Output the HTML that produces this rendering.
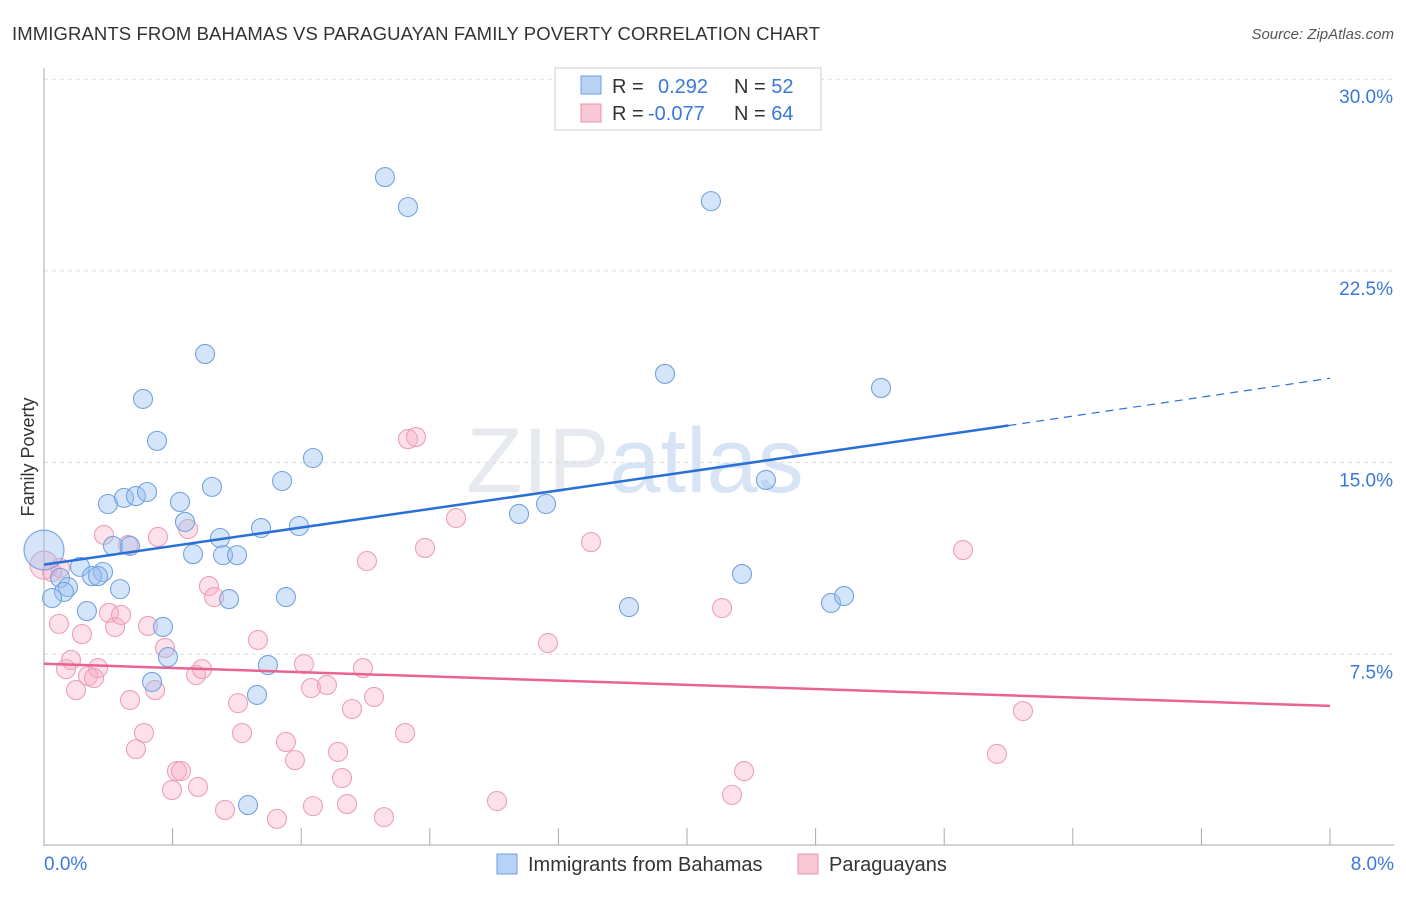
<!DOCTYPE html>
<html><head><meta charset="utf-8"><style>
body{margin:0;background:#fff;font-family:"Liberation Sans",sans-serif}
svg text{font-family:"Liberation Sans",sans-serif}
</style></head><body>
<svg width="1406" height="892" viewBox="0 0 1406 892">
<text x="12" y="40" font-size="18.5" fill="#333" textLength="808">IMMIGRANTS FROM BAHAMAS VS PARAGUAYAN FAMILY POVERTY CORRELATION CHART</text>
<text x="1394" y="39" font-size="15" fill="#555" font-style="italic" text-anchor="end">Source: ZipAtlas.com</text>
<text x="635" y="492" font-size="92" fill="#e6eaef" font-family="Liberation Serif" text-anchor="middle">ZIP<tspan fill="#d6e4f5" font-family="Liberation Sans">atlas</tspan></text>
<g id="grid"></g>
<line x1="44" y1="68" x2="44" y2="846" stroke="#aaa"/>
<line x1="44" y1="845" x2="1394" y2="845" stroke="#aaa"/>
<g id="ticks"></g>
<text x="34" y="457" font-size="18" fill="#333" text-anchor="middle" transform="rotate(-90 34 457)">Family Poverty</text>
<text x="44" y="870" font-size="19" fill="#3b78d8">0.0%</text>
<text x="1394" y="870" font-size="19" fill="#3b78d8" text-anchor="end">8.0%</text>
<g id="pts"></g>
<g id="lines"></g>
<g>
<rect x="555" y="68" width="266" height="62" fill="#fff" stroke="#ccc"/>
<rect x="581" y="76" width="20" height="18" fill="#b8d2f4" stroke="#6e9fe0"/>
<rect x="581" y="104" width="20" height="18" fill="#f9c8d6" stroke="#ec8fab"/>
<text x="612" y="93" font-size="20" fill="#333">R = <tspan fill="#3b78d8" x="658">0.292</tspan><tspan x="734" fill="#333">N = </tspan><tspan fill="#3b78d8">52</tspan></text>
<text x="612" y="120" font-size="20" fill="#333">R = <tspan fill="#3b78d8" x="648">-0.077</tspan><tspan x="734" fill="#333">N = </tspan><tspan fill="#3b78d8">64</tspan></text>
</g>
<g>
<rect x="497" y="854" width="20" height="20" fill="#b8d2f4" stroke="#6e9fe0"/>
<text x="528" y="871" font-size="20" fill="#333">Immigrants from Bahamas</text>
<rect x="798" y="854" width="20" height="20" fill="#f9c8d6" stroke="#ec8fab"/>
<text x="829" y="871" font-size="20" fill="#333">Paraguayans</text>
</g>
</svg>
<script>
const yTicks=[7.5,15.0,22.5,30.0];
const xTickVals=[0,0.8,1.6,2.4,3.2,4.0,4.8,5.6,6.4,7.2,8.0];
const bluePx=[[44,550],[108,504],[124,498],[136,496],[147,492],[180,502],[185,522],[205,354],[143,399],[157,441],[212,487],[113,546],[130,546],[193,554],[220,538],[223,555],[237,555],[261,528],[282,481],[299,526],[313,458],[80,567],[103,572],[92,576],[98,576],[60,578],[68,587],[64,592],[52,598],[120,589],[87,611],[163,627],[229,599],[286,597],[168,657],[268,665],[152,682],[257,695],[248,805],[385,177],[408,207],[519,514],[546,504],[629,607],[665,374],[711,201],[742,574],[766,480],[831,603],[844,596],[881,388]];
const pinkPx=[[44,565],[52,572],[60,568],[104,535],[128,545],[158,537],[188,529],[59,624],[82,634],[109,613],[115,627],[121,615],[148,626],[165,648],[209,586],[214,597],[258,640],[71,660],[66,669],[98,668],[88,676],[94,678],[76,690],[155,690],[196,675],[202,669],[304,664],[363,668],[130,700],[238,703],[311,688],[327,685],[374,697],[352,709],[144,733],[136,749],[242,733],[286,742],[295,760],[338,752],[405,733],[177,771],[181,771],[172,790],[198,787],[342,778],[225,810],[277,819],[313,806],[347,804],[384,817],[367,561],[408,439],[416,437],[425,548],[456,518],[548,643],[591,542],[722,608],[744,771],[732,795],[497,801],[963,550],[1023,711],[997,754]];
const blueX=bluePx.map(p=>+((p[0]-44)/1286*8).toFixed(3));
const blueY=bluePx.map(p=>+((846-p[1])/191.7*7.5).toFixed(2));
const pinkX=pinkPx.map(p=>+((p[0]-44)/1286*8).toFixed(3));
const pinkY=pinkPx.map(p=>+((846-p[1])/191.7*7.5).toFixed(2));
const blueTrend=[0.0,11.01,6.0,16.45,8.0,18.3];
const pinkTrend=[0.0,7.13,8.0,5.48];
const NS='http://www.w3.org/2000/svg';
const sx=v=>44+v/8*1286, sy=v=>846-v/7.5*191.7;
function mk(t,a,parent){const e=document.createElementNS(NS,t);for(const k in a)e.setAttribute(k,a[k]);document.getElementById(parent).appendChild(e);return e;}
yTicks.forEach(t=>{
 const l=mk('line',{x1:44,x2:1394,y1:sy(t),y2:sy(t),stroke:'#ddd','stroke-dasharray':'4,4'},'grid');
 
 
 const tx=mk('text',{x:1393,y:sy(t)+24,'font-size':19,fill:'#3b78d8','text-anchor':'end'},'grid');
 tx.textContent=t.toFixed(1)+'%';
 
 
});
xTickVals.forEach(t=>{
 const l=mk('line',{x1:sx(t),x2:sx(t),y1:828,y2:845,stroke:'#aaa'},'ticks');
 
 
});
function pts(X,Y,fill,stroke,name,big){
 X.forEach((x,i)=>{
  const r=(x===0)?big:9.5;
  const c=mk('circle',{cx:sx(x),cy:sy(Y[i]),r:r,fill:fill,stroke:stroke,'stroke-width':1.1},'pts');
  
  
 });
}
pts(pinkX,pinkY,'rgba(245,170,195,0.35)','#eca0b8','paraguayan-point',14);
pts(blueX,blueY,'rgba(150,190,240,0.4)','#74a3e0','bahamas-point',20);
let l=mk('line',{x1:sx(blueTrend[0]),y1:sy(blueTrend[1]),x2:sx(blueTrend[2]),y2:sy(blueTrend[3]),stroke:'#2a6fd6','stroke-width':2.5},'lines');


l=mk('line',{x1:sx(blueTrend[2]),y1:sy(blueTrend[3]),x2:sx(blueTrend[4]),y2:sy(blueTrend[5]),stroke:'#2a6fd6','stroke-width':1.2,'stroke-dasharray':'8,6'},'lines');


l=mk('line',{x1:sx(pinkTrend[0]),y1:sy(pinkTrend[1]),x2:sx(pinkTrend[2]),y2:sy(pinkTrend[3]),stroke:'#e8638f','stroke-width':2.5},'lines');


</script>
</body></html>
